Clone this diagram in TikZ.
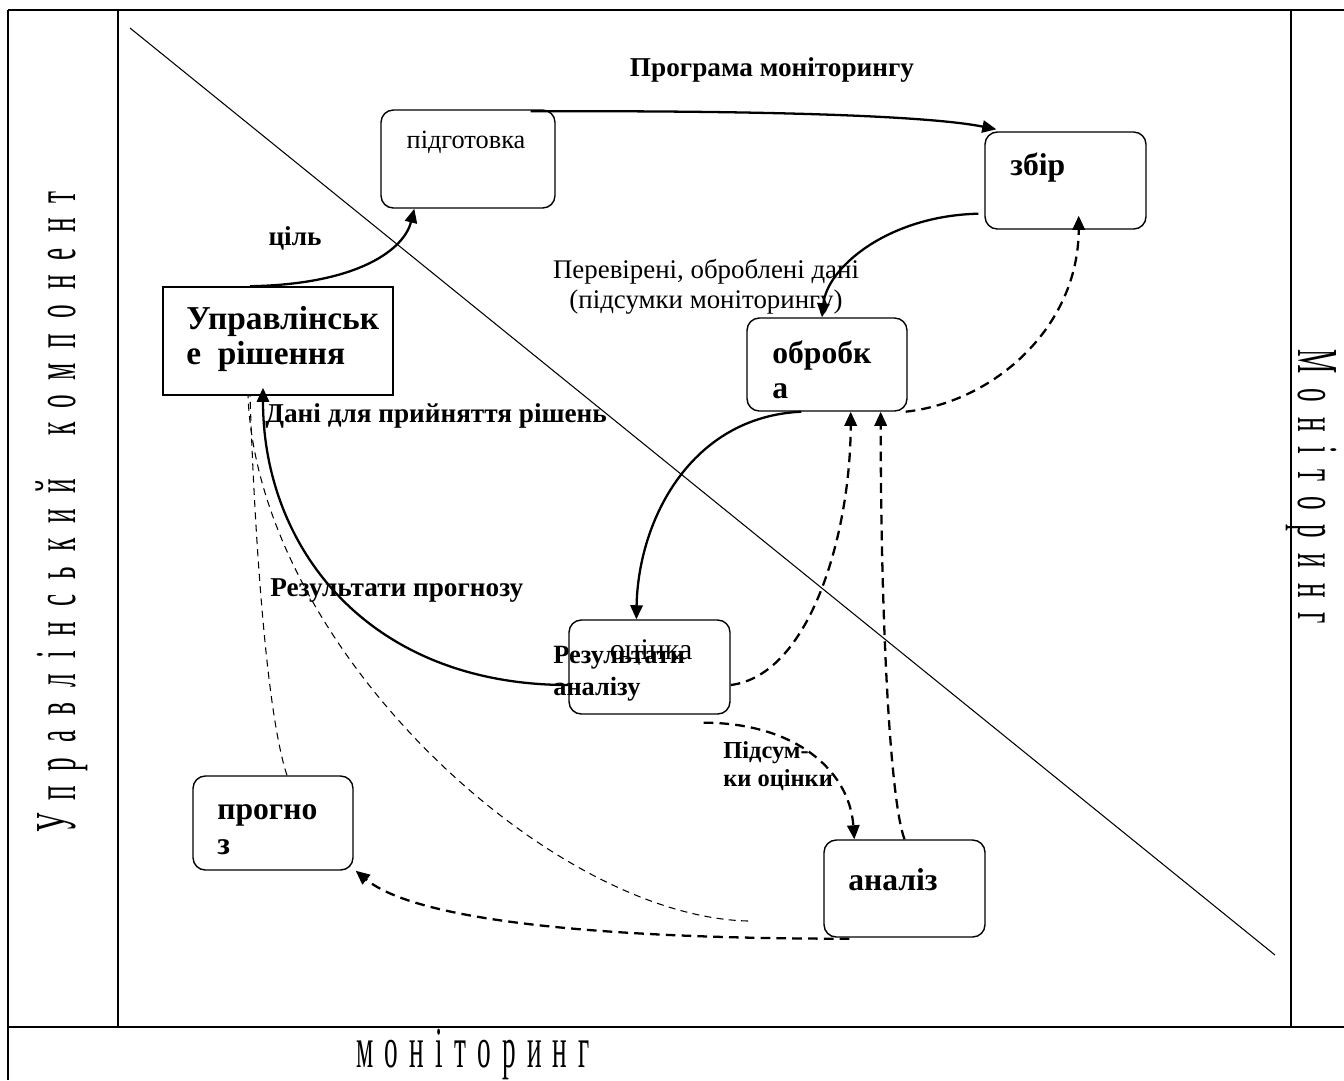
\documentclass[tikz,border=0pt]{standalone}
\usepackage{fontspec}
\setmainfont{Liberation Serif}
\newfontfamily\sidefont[FakeStretch=0.47]{Liberation Serif}
\usetikzlibrary{arrows.meta,calc}

\tikzset{
  block/.style={draw, rounded corners=7pt, line width=0.8pt},
  flow/.style={line width=1.3pt, -{Triangle[length=8pt,width=7pt]}},
  backflow/.style={flow, dash pattern=on 5.5pt off 3.5pt},
  thinflow/.style={line width=0.6pt, dash pattern=on 4pt off 3pt},
  lbl/.style={font=\fontsize{15.5}{18}\selectfont\bfseries, inner sep=0pt},
  boxtxt/.style={font=\fontsize{18}{20}\selectfont\bfseries, inner sep=0pt, anchor=west, align=left},
}

\begin{document}
\begin{tikzpicture}[x=0.02cm, y=-0.02cm]
  \useasboundingbox (0,0) rectangle (1344,1080);

  % frame of the table
  \draw[line width=1.2pt] (8,10) -- (1344,10);
  \draw[line width=1.2pt] (8,1027) -- (1344,1027);
  \draw[line width=0.8pt] (8,10) -- (8,1080);
  \draw[line width=0.8pt] (118,10) -- (118,1027);
  \draw[line width=0.8pt] (1291,10) -- (1291,1027);

  % side captions
  \node[rotate=90, inner sep=0pt, font=\fontsize{33}{35}\sidefont] (sideL) at (62,512)
    {\addfontfeature{LetterSpace=26}Управлінський\ \ компонент};
  \node[rotate=-90, inner sep=0pt, font=\fontsize{33}{35}\sidefont] (sideR) at (1311,487)
    {\addfontfeature{LetterSpace=26}Моніторинг};
  \node[inner sep=0pt, font=\fontsize{33}{35}\sidefont] (sideB) at (473,1054)
    {\addfontfeature{LetterSpace=19.5}моніторинг};

  % dividing diagonal
  \draw[line width=0.6pt] (130,28) -- (1275,955);

  % blocks
  \node[block, minimum width=3.48cm, minimum height=1.96cm] (prep) at (468,159) {};
  \node[block, minimum width=3.22cm, minimum height=1.94cm] (zbir) at (1065.5,180.5) {};
  \node[draw, line width=0.9pt, minimum width=4.6cm, minimum height=2.16cm] (upr) at (278,341) {};
  \node[block, minimum width=3.2cm, minimum height=1.86cm] (obr) at (827,364.5) {};
  \node[block, minimum width=3.22cm, minimum height=1.88cm] (ocin) at (649.5,667) {};
  \node[block, minimum width=3.2cm, minimum height=1.88cm] (progn) at (273,823) {};
  \node[block, minimum width=3.22cm, minimum height=1.94cm] (anal) at (904.5,888.5) {};

  % texts of the blocks
  \node[inner sep=0pt, font=\fontsize{15}{17}\selectfont] (prepT) at (466,142) {підготовка};
  \node[boxtxt] (zbirT) at (1010,168) {збір};
  \node[boxtxt, font=\fontsize{19}{19.5}\selectfont\bfseries] (uprT) at (186,339) {Управлінськ\\е\ \ рішення};
  \node[boxtxt] (obrT) at (772,370) {обробк\\а};
  \node[inner sep=0pt, font=\fontsize{17}{19}\selectfont] (ocinT) at (651,652) {оцінка};
  \node[boxtxt] (prognT) at (217,830) {прогно\\з};
  \node[boxtxt] (analT) at (848,880) {аналіз};

  % solid arrows
  \draw[flow] ($(prep.north east)+(-25,2)$) .. controls +(270,-1) and +(-60,-12) .. ($(zbir.north west)+(12,-2)$);
  \draw[flow] ($(upr.north)+(-28,0)$) .. controls +(110,-2) and +(-10,40) .. ($(prep.south west)+(34,0)$);
  \draw[flow] ($(zbir.south west)+(-6,-16)$) .. controls +(-90,2) and +(5,-50) .. ($(obr.north)+(-5,0)$);
  \draw[flow] ($(obr.south west)+(55,0)$) .. controls +(-110,5) and +(2,-100) .. ($(ocin.north west)+(68,0)$);
  \draw[flow] ($(ocin.west)+(0,18)$) .. controls +(-200,0) and +(0,160) .. ($(upr.south)+(-15,-8)$);

  % dashed arrows
  \draw[backflow] ($(ocin.east)+(0,18)$) .. controls +(80,-10) and +(0,120) .. ($(obr.south east)+(-57,0)$);
  \draw[backflow] (anal.north) .. controls +(-15,-40) and +(0,200) .. ($(obr.south east)+(-27,0)$);
  \draw[backflow] ($(obr.south east)+(-2,0)$) .. controls +(90,-10) and +(0,110) .. ($(zbir.south east)+(-68,-14)$);
  \draw[backflow] ($(ocin.south east)+(-27,8)$) .. controls +(90,0) and +(-5,-70) .. ($(anal.north west)+(31,0)$);
  \draw[backflow] ($(anal.south west)+(26,1)$) .. controls +(-250,0) and +(60,50) .. ($(progn.south east)+(2,0)$);

  % thin dashed lines
  \coordinate (fcEnd) at (748,921);
  \draw[thinflow] (fcEnd) .. controls +(-200,-5) and +(10,250) .. ($(upr.south)+(-30,0)$);
  \draw[thinflow] ($(progn.north)+(14,0)$) .. controls +(-20,-60) and +(5,150) .. ($(upr.south)+(-28,0)$);

  % labels
  \node[lbl] (progLbl) at (772,70) {Програма моніторингу};
  \node[lbl] (goalLbl) at (295,238) {ціль};
  \node[inner sep=0pt, align=center, font=\fontsize{15.3}{17}\selectfont] (checkedLbl) at (706,287)
    {Перевірені, оброблені дані\\(підсумки моніторингу)};
  \node[lbl, anchor=west] (dataLbl) at (265,416) {Дані для прийняття рішень};
  \node[lbl, anchor=west] (forecastLbl) at (270,591) {Результати прогнозу};
  \node[lbl, anchor=west, align=left, font=\fontsize{15}{18}\selectfont\bfseries] (analysisLbl) at (553,674) {Результати\\аналізу};
  \node[lbl, anchor=west, align=left, font=\fontsize{13.9}{16}\selectfont\bfseries] (sumLbl) at (723,766) {Підсум-\\ки оцінки};
\end{tikzpicture}
\end{document}
